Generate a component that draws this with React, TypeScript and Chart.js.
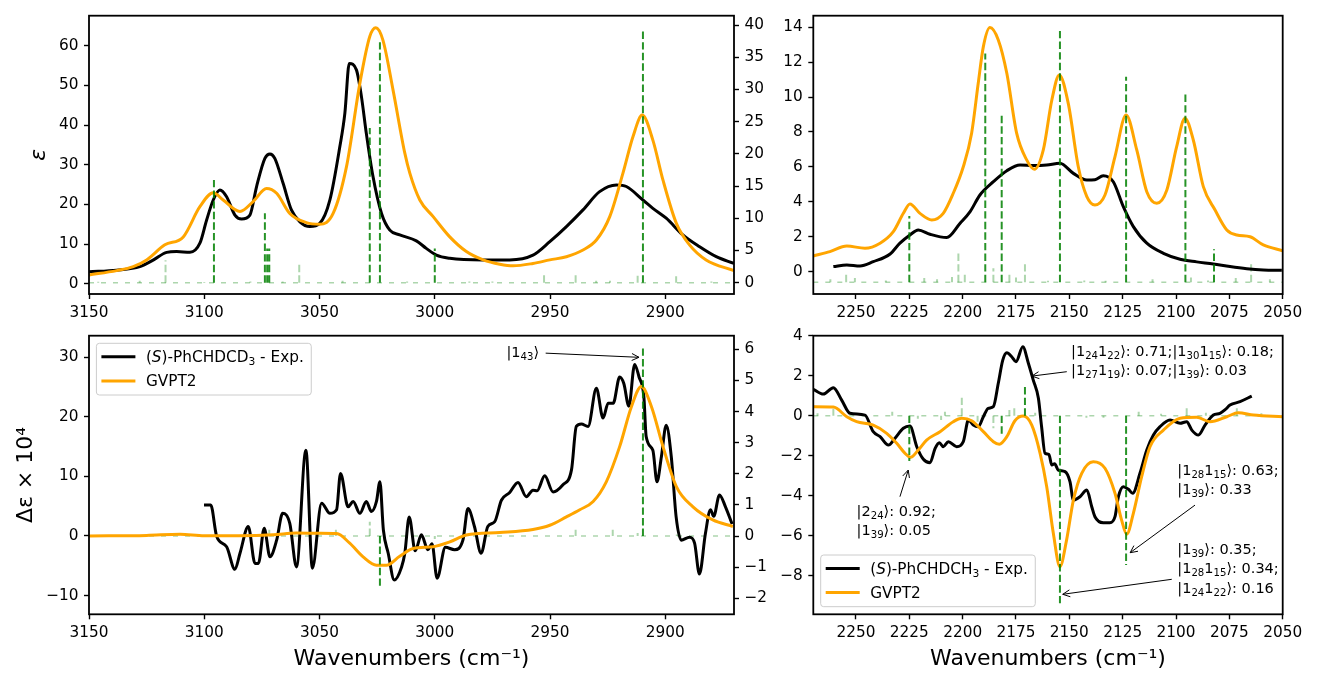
import React, { useEffect, useRef } from "react";
import { Chart, registerables } from "chart.js";
Chart.register(...registerables);

const FAMILY = "'DejaVu Sans', 'Liberation Sans', sans-serif";
const ORANGE = "#FFA500";
const STICK = "rgba(0,128,0,0.85)";
const WEAK = "rgba(0,128,0,0.32)";

// ---------------- Top-left: IR (ε), 3150–2870 cm-1 ----------------
const TL_EXP: number[][] = [
  [3150, 3.0], [3138, 3.4], [3127.9, 4.3], [3122, 6.0], [3116.3, 7.9], [3112, 8.1], [3106.2, 7.9],
  [3101.9, 10.2], [3099, 16.0], [3096.1, 21.1], [3093.2, 23.6], [3090.3, 21.9], [3086.7, 17.3],
  [3083.8, 16.3], [3080.2, 17.3], [3077.3, 24.5], [3073.7, 31.6], [3071.5, 32.7], [3069.4, 31.6],
  [3065.8, 25.3], [3062.2, 18.6], [3058.5, 15.6], [3054.2, 14.4], [3049.9, 15.2], [3045.5, 21.1],
  [3041.2, 34.5], [3039, 43.0], [3037.1, 55.5], [3034, 53.9], [3031.8, 47.1], [3029.7, 37.9],
  [3026.8, 27.0], [3023.1, 17.7], [3019.5, 13.5], [3015.2, 12.3], [3008, 10.8], [3003.7, 8.9],
  [2999.3, 7.2], [2993.5, 6.4], [2979, 6.0], [2967.5, 6.0], [2957.4, 7.2], [2950.1, 10.6],
  [2942.9, 14.4], [2935.7, 18.6], [2928.5, 23.2], [2921.2, 24.9], [2916.9, 24.5], [2909.7, 21.1],
  [2905.4, 19.0], [2899.6, 16.5], [2892.4, 12.3], [2885.1, 9.3], [2877.9, 6.8], [2870.2, 5.1],
];
const TL_CALC: number[][] = [
  [3150, 2.2], [3138, 3.3], [3130.8, 4.3], [3125, 6.0], [3117.1, 9.8], [3109.1, 11.8], [3101.9, 19.4],
  [3096.1, 22.9], [3091.8, 21.1], [3084.5, 18.2], [3078.8, 20.7], [3073, 24.0], [3068.6, 22.8],
  [3062.9, 17.7], [3055.7, 15.4], [3049.9, 15.0], [3044.1, 17.7], [3038.3, 29.5], [3032.5, 50.5],
  [3028.2, 62.3], [3025.6, 64.5], [3022.5, 61.4], [3018.1, 48.8], [3013, 32.9], [3010.8, 27.8],
  [3006.5, 21.1], [3000.7, 16.9], [2993.5, 11.8], [2986.3, 8.1], [2979, 6.0], [2971.8, 4.9],
  [2966, 4.5], [2957.4, 5.1], [2950.1, 6.0], [2942.9, 6.8], [2935.7, 8.5], [2929.9, 11.0],
  [2924.1, 16.9], [2918.4, 27.8], [2914, 37.1], [2910, 42.5], [2905.4, 36.2], [2901, 26.1],
  [2895.2, 15.2], [2889.5, 9.8], [2882.3, 6.0], [2870.2, 3.3],
];
const TL_STICKS: number[][] = [
  [3095.8, 16.2], [3073.7, 10.8], [3072.7, 5.3], [3071.8, 5.3], [3028.2, 24.0], [3023.8, 37.4],
  [3000.0, 5.3], [2909.7, 39.4],
];
const TL_WEAK: number[][] = [
  [3146, 0.15], [3128, 0.3], [3116.8, 3.5], [3100, 0.1], [3080, 0.2], [3066, 0.2], [3058.8, 2.9],
  [3040, 0.3], [3012, 0.2], [2985, 0.2], [2975, 0.2], [2952.6, 1.5], [2938.9, 1.5], [2930, 0.3],
  [2924, 0.3], [2912, 1.1], [2895.3, 1.0], [2880, 0.2],
];
const TL_X_TICKS = [3150, 3100, 3050, 3000, 2950, 2900];
const TL_Y_TICKS = [0, 10, 20, 30, 40, 50, 60];
const TL_Y1_TICKS = [0, 5, 10, 15, 20, 25, 30, 35, 40];

// ---------------- Top-right: IR (ε), 2270–2050 cm-1 ----------------
const TR_EXP: number[][] = [
  [2260.6, 0.29], [2254.3, 0.38], [2248.1, 0.32], [2241.9, 0.57], [2234, 1.01], [2229.4, 1.63],
  [2224.7, 2.1], [2220.8, 2.39], [2215.3, 2.14], [2207.5, 1.95], [2201.2, 2.77], [2196.5, 3.44],
  [2191.9, 4.39], [2185.6, 5.15], [2179.3, 5.78], [2173.1, 6.11], [2166.9, 6.08], [2160.6, 6.11],
  [2154.4, 6.21], [2148.1, 5.63], [2141.8, 5.25], [2138, 5.27], [2134.1, 5.5], [2129.4, 5.15],
  [2124.7, 3.72], [2120, 2.58], [2113.7, 1.63], [2105.9, 1.05], [2098.1, 0.71], [2090.3, 0.56],
  [2082.5, 0.44], [2074.7, 0.29], [2066.8, 0.17], [2059.1, 0.1], [2050.4, 0.08],
];
const TR_CALC: number[][] = [
  [2270, 0.9], [2262.2, 1.15], [2254.3, 1.47], [2245.8, 1.34], [2238.7, 1.63], [2232.5, 2.29],
  [2227.8, 3.34], [2224.7, 3.88], [2220, 3.34], [2214.5, 2.96], [2209.1, 3.34], [2204.4, 4.49],
  [2199.7, 6.01], [2195.8, 7.93], [2192.7, 10.79], [2190.3, 12.89], [2187.2, 13.98], [2183.3, 13.27],
  [2179.3, 11.36], [2174.7, 7.93], [2170, 6.4], [2166.4, 5.86], [2162.2, 6.97], [2158.2, 9.83],
  [2154.7, 11.27], [2150.5, 9.64], [2145.8, 6.01], [2141.8, 4.3], [2138, 3.82], [2133.3, 4.39],
  [2128.6, 6.59], [2123.4, 8.97], [2118.4, 6.97], [2113.7, 4.58], [2109, 3.92], [2104.3, 4.68],
  [2099.7, 7.16], [2095.8, 8.79], [2091.9, 7.54], [2087.2, 4.87], [2081.7, 3.53], [2076.2, 2.39],
  [2071.5, 2.1], [2065.3, 2.0], [2059.1, 1.53], [2050, 1.2],
];
const TR_STICK_BASE = -0.6;
const TR_STICKS: number[][] = [
  [2225.0, 3.19], [2189.4, 12.5], [2181.7, 9.03], [2154.4, 13.94], [2123.4, 11.17], [2095.6, 10.27],
  [2082.2, 1.28],
];
const TR_WEAK: number[][] = [
  [2262, -0.44], [2254.6, -0.13], [2250.5, -0.37], [2236, -0.5], [2218, -0.37], [2212, -0.44],
  [2205, -0.3], [2202, 1.05], [2199, -0.14], [2185.6, 0.2], [2178.1, -0.14], [2175, -0.33],
  [2170.8, 0.57], [2160, -0.52], [2143, -0.5], [2133, -0.52], [2111, -0.44], [2093, -0.33],
  [2085, -0.5], [2072, -0.37], [2064.8, 0.48], [2056, -0.44],
];
const TR_X_TICKS = [2250, 2225, 2200, 2175, 2150, 2125, 2100, 2075, 2050];
const TR_Y_TICKS = [0, 2, 4, 6, 8, 10, 12, 14];

// ---------------- Bottom-left: VCD (Δε×10^4), 3150–2870 cm-1 ----------------
const BL_EXP: number[][] = [
  [3100.1, 5.2], [3097.2, 5.2], [3094.6, -0.1], [3090.3, -1.8], [3086.7, -5.6], [3084.5, -2.9],
  [3080.9, 1.6], [3078, -4.6], [3076.5, -4.6], [3074, 1.3], [3071.5, -3.5], [3068.6, -0.7],
  [3066, 3.8], [3062.9, 2.1], [3060, -5.2], [3055.9, 14.4], [3053.1, -5.4], [3049.1, 5.5],
  [3045.5, 3.8], [3042.6, 4.4], [3040.9, 10.5], [3037.6, 4.9], [3035.4, 5.8], [3032.5, 3.8],
  [3029.7, 5.8], [3027.5, 4.1], [3025.3, 5.8], [3023.8, 9.1], [3022.3, 1.0], [3020.2, -2.9],
  [3017.6, -7.4], [3014.4, -5.2], [3013, -2.9], [3011.1, 3.2], [3008.5, -2.5], [3005.8, 0.2],
  [3003, -2.3], [3001.2, -1.3], [2999, -7.1], [2995.4, -1.9], [2991.4, -2.3], [2987.8, -0.7],
  [2985.6, 4.6], [2982.8, 1.6], [2979.9, -2.9], [2977, 1.6], [2974, 2.4], [2971.1, 6.0],
  [2967.5, 7.3], [2963.9, 9.0], [2960.3, 6.6], [2957.4, 7.7], [2955.6, 7.6], [2952.3, 10.1],
  [2948.7, 7.4], [2944.4, 8.6], [2940.7, 11.1], [2938.6, 18.4], [2936.4, 18.8], [2933.5, 18.4],
  [2929.9, 24.8], [2927, 19.8], [2924.8, 22.3], [2922.6, 22.3], [2919.8, 26.7], [2918, 25.6],
  [2915.8, 21.8], [2913.3, 28.8], [2911.4, 26.7], [2909.3, 23.4], [2908.3, 16.7], [2905.4, 14.4],
  [2903.6, 9.1], [2901.7, 13.3], [2899.6, 18.6], [2897.4, 13.3], [2895.3, 3.2], [2893.1, -0.7],
  [2889.5, -0.2], [2887.3, -1.2], [2885.2, -6.4], [2882.6, 0.4], [2880.4, 4.4], [2879, 3.3],
  [2876.5, 6.9], [2873.9, 4.9], [2871, 2.0],
];
const BL_CALC: number[][] = [
  [3150, 0.0], [3125, 0.1], [3110.5, 0.3], [3100, 0.05], [3085, 0.05], [3070, 0.2], [3060, 0.5],
  [3050, 0.45], [3042.6, 0.4], [3036.9, -1.2], [3031.1, -3.5], [3025.3, -4.9], [3021, -4.9],
  [3015.2, -3.4], [3009.4, -2.1], [3000.7, -1.8], [2993.5, -1.0], [2986.3, 0.17], [2971.8, 0.6],
  [2957.4, 1.1], [2950.1, 1.8], [2942.9, 3.2], [2937.1, 4.4], [2931.3, 5.8], [2925.6, 9.1],
  [2919.8, 15.0], [2914.7, 21.7], [2910.4, 25.1], [2906, 21.7], [2901, 15.0], [2895.2, 8.3],
  [2888, 4.9], [2879.4, 2.7], [2870.7, 1.6],
];
const BL_STICKS: number[][] = [[3023.8, -1.6], [2909.7, 6.03]];
const BL_WEAK: number[][] = [
  [3117, 0.05], [3071.8, 0.2], [3042.9, 0.2], [3028.2, 0.46], [3000, -0.1], [2938.9, 0.2],
  [2922.8, 0.2], [2912, 0.1], [2895, 0.05],
];
const BL_Y_TICKS = [-10, 0, 10, 20, 30];
const BL_Y1_TICKS = [-2, -1, 0, 1, 2, 3, 4, 5, 6];

// ---------------- Bottom-right: VCD (Δε×10^4), 2270–2050 cm-1 ----------------
const BR_EXP: number[][] = [
  [2270, 1.32], [2265.3, 1.08], [2260.6, 1.4], [2256.7, 0.78], [2252.8, 0.12], [2245.8, 0.03],
  [2241.9, -0.8], [2238.7, -1.05], [2234.8, -1.47], [2231.7, -1.13], [2227.8, -0.63], [2224.7, -0.52],
  [2221.5, -1.55], [2218.4, -2.18], [2215.3, -2.35], [2212.9, -1.63], [2210.9, -1.35], [2209.1, -1.55],
  [2206.7, -1.3], [2202.8, -1.55], [2199.7, -1.3], [2197.3, -0.22], [2195, -0.47], [2192.7, -0.55],
  [2190.3, -0.05], [2188, 0.37], [2185.6, 0.45], [2183.3, 1.62], [2181.2, 2.78], [2179.3, 3.15],
  [2177, 2.95], [2175, 2.7], [2171.8, 3.45], [2169.2, 2.62], [2166.9, 1.78], [2164.5, 0.87],
  [2163, -0.55], [2161.4, -1.88], [2159.6, -1.93], [2158.2, -2.47], [2156.9, -2.4], [2155.2, -2.72],
  [2152, -2.8], [2149.7, -3.3], [2148.1, -4.22], [2145, -4.05], [2141.8, -3.72], [2139.5, -4.55],
  [2138, -5.05], [2134.1, -5.35], [2131, -5.35], [2128.6, -5.05], [2127, -4.05], [2124.7, -3.55],
  [2122.3, -3.68], [2120.3, -3.88], [2116.9, -2.88], [2113.7, -1.72], [2110.6, -0.97], [2107.5, -0.55],
  [2102.8, -0.22], [2098.1, -0.38], [2095, -0.3], [2092.6, -0.72], [2089.5, -0.97], [2086.4, -0.47],
  [2082.5, 0.03], [2079.4, 0.12], [2077, 0.3], [2074.7, 0.53], [2070, 0.7], [2064.5, 0.98],
];
const BR_CALC: number[][] = [
  [2270, 0.45], [2260.6, 0.43], [2254.3, -0.05], [2249.7, -0.3], [2241.9, -0.47], [2235.6, -0.88],
  [2230.9, -1.38], [2227, -1.88], [2224.4, -2.08], [2220.8, -1.72], [2216.9, -1.22], [2210.6, -0.8],
  [2204.4, -0.3], [2200.4, -0.13], [2195.8, -0.25], [2190.3, -0.8], [2185.6, -1.3], [2182.8, -1.43],
  [2179.3, -1.05], [2175.5, -0.25], [2171.6, -0.02], [2167.6, -0.47], [2163.7, -1.88], [2160.6, -3.55],
  [2157.5, -5.88], [2154.4, -7.55], [2151.3, -6.22], [2148.1, -4.22], [2144.2, -2.88], [2138.8, -2.3],
  [2133.3, -2.63], [2128.6, -3.88], [2125.5, -5.22], [2123.1, -5.93], [2120, -4.88], [2116.1, -3.05],
  [2112.2, -1.55], [2105.9, -0.72], [2098.1, -0.13], [2090.3, -0.08], [2084.1, -0.3], [2076.2, -0.05],
  [2070.8, 0.15], [2063.7, 0.03], [2050, -0.05],
];
const BR_STICKS: number[][] = [
  [2225.0, -2.27], [2181.7, -1.05], [2170.8, 1.57], [2154.4, -9.38], [2123.4, -7.47],
];
const BR_WEAK: number[][] = [
  [2268, 0.12], [2260.6, 0.35], [2248, 0.1], [2233, 0.2], [2221, -0.15], [2210.1, -0.22],
  [2208.3, 0.2], [2200.4, 0.98], [2193, -0.3], [2185.6, -0.63], [2178.1, 0.28], [2175.8, 0.45],
  [2166, 0.15], [2142, -0.1], [2134, -0.1], [2117.5, 0.2], [2107, 0.1], [2095, 0.42], [2086, 0.15],
  [2071.5, 0.37], [2060, 0.12],
];
const BR_Y_TICKS = [-8, -6, -4, -2, 0, 2, 4];

// ---------------- labels ----------------
const LEGEND_BL = ["(*S*)-PhCHDCD_{3} - Exp.", "GVPT2"];
const LEGEND_BR = ["(*S*)-PhCHDCH_{3} - Exp.", "GVPT2"];
const X_TITLE = "Wavenumbers (cm\u207B\u00B9)";

// annotation text + anchor (data units): text left/first-line y, arrow tail, arrow head
const BL_NOTES = [
  { lines: ["|1_{43}\u27E9"], tx: 2968.9, ty: 30.7, ax: 2951.9, ay: 30.7, hx: 2911.4, hy: 30.0 },
];
const BR_NOTES = [
  {
    lines: ["|1_{24}1_{22}\u27E9: 0.71;|1_{30}1_{15}\u27E9: 0.18;", "|1_{27}1_{19}\u27E9: 0.07;|1_{39}\u27E9: 0.03"],
    tx: 2149.2, ty: 3.2, ax: 2151.2, ay: 2.2, hx: 2167.6, hy: 1.98,
  },
  { lines: ["|2_{24}\u27E9: 0.92;", "|1_{39}\u27E9: 0.05"], tx: 2249.7, ty: -4.8, ax: 2229.4, ay: -4.05, hx: 2225.5, hy: -2.72 },
  { lines: ["|1_{28}1_{15}\u27E9: 0.63;", "|1_{39}\u27E9: 0.33"], tx: 2099.4, ty: -2.75, ax: 2091.1, ay: -4.47, hx: 2121.5, hy: -6.85 },
  {
    lines: ["|1_{39}\u27E9: 0.35;", "|1_{28}1_{15}\u27E9: 0.34;", "|1_{24}1_{22}\u27E9: 0.16"],
    tx: 2099.4, ty: -6.72, ax: 2102.0, ay: -8.18, hx: 2153.1, hy: -8.93,
  },
];

// ---------------- helpers ----------------
type Seg = { t: string; sub: boolean; it: boolean };
function parseRich(s: string): Seg[] {
  const out: Seg[] = [];
  let buf = "";
  let it = false;
  let i = 0;
  const flush = () => {
    if (buf) out.push({ t: buf, sub: false, it });
    buf = "";
  };
  while (i < s.length) {
    const c = s[i];
    if (c === "_" && s[i + 1] === "{") {
      flush();
      const j = s.indexOf("}", i);
      out.push({ t: s.slice(i + 2, j), sub: true, it });
      i = j + 1;
      continue;
    }
    if (c === "*") {
      flush();
      it = !it;
      i++;
      continue;
    }
    buf += c;
    i++;
  }
  flush();
  return out;
}
function segFont(s: Seg, size: number) {
  return `${s.it ? "italic " : ""}${s.sub ? size * 0.7 : size}px ${FAMILY}`;
}
function richWidth(ctx: CanvasRenderingContext2D, text: string, size: number) {
  let w = 0;
  for (const s of parseRich(text)) {
    ctx.font = segFont(s, size);
    w += ctx.measureText(s.t).width;
  }
  return w;
}
function drawRich(ctx: CanvasRenderingContext2D, text: string, x: number, baseY: number, size: number) {
  ctx.textBaseline = "alphabetic";
  ctx.textAlign = "left";
  let cx = x;
  for (const s of parseRich(text)) {
    ctx.font = segFont(s, size);
    ctx.fillText(s.t, cx, s.sub ? baseY + size * 0.22 : baseY);
    cx += ctx.measureText(s.t).width;
  }
}
function drawArrow(ctx: CanvasRenderingContext2D, x0: number, y0: number, x1: number, y1: number) {
  const a = Math.atan2(y1 - y0, x1 - x0);
  const L = 8;
  const w = 0.45;
  ctx.beginPath();
  ctx.moveTo(x0, y0);
  ctx.lineTo(x1, y1);
  ctx.moveTo(x1 - L * Math.cos(a - w), y1 - L * Math.sin(a - w));
  ctx.lineTo(x1, y1);
  ctx.lineTo(x1 - L * Math.cos(a + w), y1 - L * Math.sin(a + w));
  ctx.stroke();
}

const pts = (d: number[][]) => d.map(([x, y]) => ({ x, y }));
const stickPts = (d: number[][], base: number) =>
  d.flatMap(([x, y]) => [{ x, y: base }, { x, y }, { x, y: null as any }]);

const fmt = (v: number) => (v < 0 ? "\u2212" + Math.abs(v) : String(v));

type Note = { lines: string[]; tx: number; ty: number; ax: number; ay: number; hx: number; hy: number };
type Panel = {
  left: number; top: number; w: number; h: number;
  padTop: number; padRight: number; yW: number; y1W: number; xH: number;
  xMin: number; xMax: number; xTicks: number[];
  yMin: number; yMax: number; yTicks: number[];
  y1?: { min: number; max: number; ticks: number[] };
  yTitle?: { text: string; pad: number; italic?: boolean };
  xTitle?: boolean;
  exp: number[][]; calc: number[][];
  sticks: number[][]; weak: number[][]; stickAxis: string; stickBase: number;
  legend?: { labels: string[]; corner: "tl" | "bl" };
  notes?: Note[]; noteAxis?: string;
};

const PANELS: Panel[] = [
  {
    left: 0, top: 0, w: 780, h: 325, padTop: 15.7, padRight: 0, yW: 89, y1W: 46, xH: 31,
    xMin: 2870.2, xMax: 3150, xTicks: TL_X_TICKS, yMin: -2.6, yMax: 67.56, yTicks: TL_Y_TICKS,
    y1: { min: -1.75, max: 41.45, ticks: TL_Y1_TICKS },
    yTitle: { text: "\u03B5", pad: 26, italic: true },
    exp: TL_EXP, calc: TL_CALC, sticks: TL_STICKS, weak: TL_WEAK, stickAxis: "y1", stickBase: 0,
  },
  {
    left: 780, top: 0, w: 564, h: 325, padTop: 15.7, padRight: 61.3, yW: 33.3, y1W: 0, xH: 31,
    xMin: 2050, xMax: 2270, xTicks: TR_X_TICKS, yMin: -1.28, yMax: 14.66, yTicks: TR_Y_TICKS,
    exp: TR_EXP, calc: TR_CALC, sticks: TR_STICKS, weak: TR_WEAK, stickAxis: "y", stickBase: TR_STICK_BASE,
  },
  {
    left: 0, top: 320, w: 780, h: 353, padTop: 15.7, padRight: 0, yW: 89, y1W: 46, xH: 58.7,
    xMin: 2870.2, xMax: 3150, xTicks: TL_X_TICKS, yMin: -13.15, yMax: 33.63, yTicks: BL_Y_TICKS,
    y1: { min: -2.516, max: 6.437, ticks: BL_Y1_TICKS },
    yTitle: { text: "\u0394\u03B5 \u00D7 10\u2074", pad: 12.6 }, xTitle: true,
    exp: BL_EXP, calc: BL_CALC, sticks: BL_STICKS, weak: BL_WEAK, stickAxis: "y1", stickBase: 0,
    legend: { labels: LEGEND_BL, corner: "tl" }, notes: BL_NOTES, noteAxis: "y",
  },
  {
    left: 780, top: 320, w: 564, h: 353, padTop: 15.7, padRight: 61.3, yW: 33.3, y1W: 0, xH: 58.7,
    xMin: 2050, xMax: 2270, xTicks: TR_X_TICKS, yMin: -9.93, yMax: 4.0, yTicks: BR_Y_TICKS,
    xTitle: true,
    exp: BR_EXP, calc: BR_CALC, sticks: BR_STICKS, weak: BR_WEAK, stickAxis: "y", stickBase: 0,
    legend: { labels: LEGEND_BR, corner: "bl" }, notes: BR_NOTES, noteAxis: "y",
  },
];

const TICK_FONT = { family: FAMILY, size: 15.3 };
const LEGEND_SIZE = 15.3;
const NOTE_SIZE = 14.5;
const tickGrid = {
  display: true, drawOnChartArea: false, drawTicks: true, tickLength: 5, tickWidth: 1.4, tickColor: "#000",
};

function makePanel(canvas: HTMLCanvasElement, p: Panel) {
  const scales: any = {
    x: {
      type: "linear", min: p.xMin, max: p.xMax, reverse: true,
      afterBuildTicks: (s: any) => { s.ticks = p.xTicks.map((v) => ({ value: v })); },
      afterFit: (s: any) => { s.height = p.xH; s.paddingLeft = 0; s.paddingRight = 0; },
      ticks: { font: TICK_FONT, color: "#000", padding: 4.5, autoSkip: false, maxRotation: 0, minRotation: 0, callback: (v: number) => fmt(v) },
      grid: tickGrid, border: { display: false },
      title: p.xTitle
        ? { display: true, text: X_TITLE, color: "#000", font: { family: FAMILY, size: 22 }, padding: { top: 0, bottom: 1 } }
        : { display: false },
    },
    y: {
      type: "linear", position: "left", min: p.yMin, max: p.yMax,
      afterBuildTicks: (s: any) => { s.ticks = p.yTicks.map((v) => ({ value: v })); },
      afterFit: (s: any) => { s.width = p.yW; s.paddingTop = 0; s.paddingBottom = 0; },
      ticks: { font: TICK_FONT, color: "#000", padding: 5.5, callback: (v: number) => fmt(v) },
      grid: tickGrid, border: { display: false },
      title: p.yTitle
        ? {
            display: true, text: p.yTitle.text, color: "#000",
            font: { family: FAMILY, size: 22, style: p.yTitle.italic ? "italic" : "normal" },
            padding: { top: p.yTitle.pad, bottom: 0 },
          }
        : { display: false },
    },
  };
  if (p.y1) {
    const y1 = p.y1;
    scales.y1 = {
      type: "linear", position: "right", min: y1.min, max: y1.max,
      afterBuildTicks: (s: any) => { s.ticks = y1.ticks.map((v) => ({ value: v })); },
      afterFit: (s: any) => { s.width = p.y1W; s.paddingTop = 0; s.paddingBottom = 0; },
      ticks: { font: TICK_FONT, color: "#000", padding: 5.5, callback: (v: number) => fmt(v) },
      grid: tickGrid, border: { display: false },
    };
  }

  const decor = {
    id: "decor",
    afterDraw(chart: any) {
      const { ctx, chartArea: a } = chart;
      ctx.save();
      ctx.strokeStyle = "#000";
      ctx.lineWidth = 1.8;
      ctx.strokeRect(a.left, a.top, a.right - a.left, a.bottom - a.top);

      const xs = chart.scales.x;
      if (p.notes && p.noteAxis) {
        const ys = chart.scales[p.noteAxis];
        ctx.fillStyle = "#000";
        ctx.strokeStyle = "#000";
        ctx.lineWidth = 1;
        for (const n of p.notes) {
          const x0 = xs.getPixelForValue(n.tx);
          const y0 = ys.getPixelForValue(n.ty);
          n.lines.forEach((ln, k) => drawRich(ctx, ln, x0, y0 + k * 19.3 + 3.8, NOTE_SIZE));
          drawArrow(ctx, xs.getPixelForValue(n.ax), ys.getPixelForValue(n.ay), xs.getPixelForValue(n.hx), ys.getPixelForValue(n.hy));
        }
      }

      if (p.legend) {
        const size = LEGEND_SIZE;
        const tw = Math.max(...p.legend.labels.map((l) => richWidth(ctx, l, size)));
        const bw = 49.5 + tw + 7.5;
        const bh = 51.7;
        const bx = a.left + 7.4;
        const by = p.legend.corner === "tl" ? a.top + 7.6 : a.bottom - 7.6 - bh;
        ctx.beginPath();
        ctx.roundRect(bx, by, bw, bh, 3);
        ctx.fillStyle = "rgba(255,255,255,0.8)";
        ctx.fill();
        ctx.strokeStyle = "#cccccc";
        ctx.lineWidth = 1;
        ctx.stroke();
        const colors = ["#000", ORANGE];
        p.legend.labels.forEach((l, k) => {
          const ry = by + 13.4 + k * 24.2;
          ctx.strokeStyle = colors[k];
          ctx.lineWidth = 3;
          ctx.beginPath();
          ctx.moveTo(bx + 5, ry);
          ctx.lineTo(bx + 39, ry);
          ctx.stroke();
          ctx.fillStyle = "#000";
          drawRich(ctx, l, bx + 49.5, ry + 5.4, size);
        });
      }
      ctx.restore();
    },
  };

  return new Chart(canvas, {
    type: "line",
    data: {
      datasets: [
        {
          label: "sticks", data: stickPts(p.sticks, p.stickBase), yAxisID: p.stickAxis, order: 0,
          borderColor: STICK, borderWidth: 2, borderDash: [7.4, 3.2], pointRadius: 0, tension: 0, spanGaps: false,
        },
        {
          label: "GVPT2", data: pts(p.calc), yAxisID: "y", order: 1,
          borderColor: ORANGE, borderWidth: 3, pointRadius: 0, cubicInterpolationMode: "monotone",
        },
        {
          label: "Exp.", data: pts(p.exp), yAxisID: "y", order: 2,
          borderColor: "#000", borderWidth: 3, pointRadius: 0, cubicInterpolationMode: "monotone",
        },
        {
          label: "weak", data: stickPts(p.weak, p.stickBase), yAxisID: p.stickAxis, order: 3,
          borderColor: WEAK, borderWidth: 2, borderDash: [7.4, 3.2], pointRadius: 0, tension: 0, spanGaps: false,
        },
        {
          label: "base", data: [{ x: p.xMax, y: p.stickBase }, { x: p.xMin, y: p.stickBase }], yAxisID: p.stickAxis, order: 4,
          borderColor: WEAK, borderWidth: 1.5, borderDash: [5, 7], pointRadius: 0, tension: 0,
        },
      ] as any,
    },
    options: {
      responsive: false,
      devicePixelRatio: 1,
      animation: false,
      events: [],
      layout: { padding: { top: p.padTop, right: p.padRight, left: 0, bottom: 0 } },
      plugins: { legend: { display: false }, tooltip: { enabled: false }, title: { display: false } },
      scales,
    } as any,
    plugins: [decor],
  });
}

export default function App() {
  const refs = useRef<(HTMLCanvasElement | null)[]>([]);
  useEffect(() => {
    document.body.style.margin = "0";
    const charts = PANELS.map((p, i) => makePanel(refs.current[i] as HTMLCanvasElement, p));
    return () => charts.forEach((c) => c.destroy());
  }, []);
  return (
    <div style={{ position: "fixed", left: 0, top: 0, width: 1344, height: 673, background: "#fff" }}>
      {PANELS.map((p, i) => (
        <canvas
          key={i}
          ref={(el) => { refs.current[i] = el; }}
          width={p.w}
          height={p.h}
          style={{ position: "absolute", left: p.left, top: p.top, width: p.w, height: p.h }}
        />
      ))}
    </div>
  );
}
